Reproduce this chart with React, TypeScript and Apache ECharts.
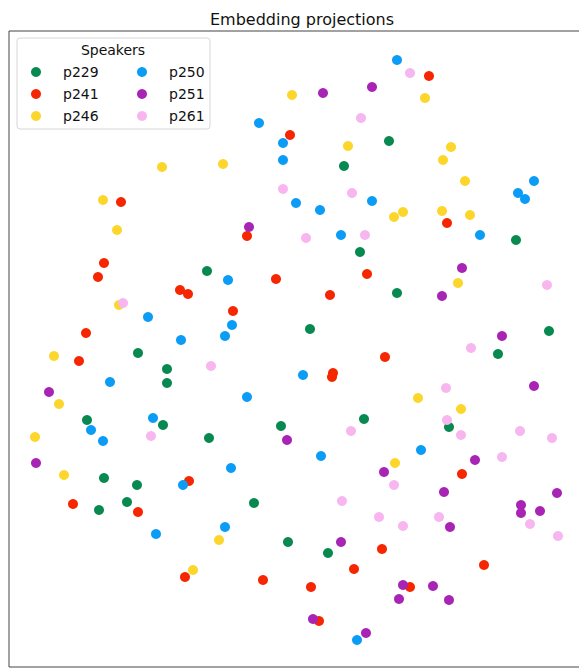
import React, { useEffect, useRef } from "react";
import * as echarts from "echarts";

const speakers = ["p229", "p241", "p246", "p250", "p251", "p261"];
const colors = ["#07894f", "#f52600", "#fdd62c", "#0b9cf5", "#a824b4", "#f7b6f0"];

const p229: number[][] = [
  [380, 526], [335, 501], [507, 427], [198, 396], [351, 415], [388, 374], [301, 338],
  [540, 336], [489, 313], [129, 314], [158, 298], [158, 284], [78, 247], [154, 242],
  [200, 229], [272, 241], [355, 248], [440, 240], [95, 189], [128, 182], [118, 165],
  [90, 157], [245, 164], [279, 125], [319, 114],
];
const p241: number[][] = [
  [420, 591], [281, 532], [112, 465], [238, 431], [438, 444], [95, 404], [89, 390],
  [267, 388], [171, 377], [179, 373], [358, 393], [321, 372], [224, 356], [77, 334],
  [70, 306], [376, 310], [324, 294], [323, 290], [180, 186], [64, 163], [129, 155],
  [453, 193], [373, 118], [345, 98], [475, 102], [176, 90], [254, 87], [302, 80],
  [401, 80], [310, 46],
];
const p246: number[][] = [
  [283, 572], [416, 569], [339, 521], [442, 520], [434, 507], [153, 500], [214, 503],
  [456, 486], [94, 467], [108, 437], [385, 450], [394, 455], [433, 456], [461, 452],
  [449, 384], [110, 362], [45, 311], [50, 263], [26, 230], [409, 269], [452, 258],
  [55, 192], [386, 204], [210, 127], [184, 97],
];
const p250: number[][] = [
  [388, 607], [250, 544], [274, 524], [274, 507], [525, 486], [509, 474], [516, 468],
  [287, 464], [311, 457], [363, 466], [332, 432], [471, 432], [219, 387], [139, 350],
  [223, 342], [216, 331], [172, 327], [101, 285], [238, 270], [294, 292], [144, 249],
  [82, 237], [94, 226], [412, 217], [312, 211], [222, 199], [174, 182], [147, 133],
  [216, 140], [348, 27],
];
const p251: number[][] = [
  [314, 574], [363, 580], [240, 440], [453, 399], [433, 371], [493, 331], [525, 281],
  [40, 275], [278, 227], [27, 204], [375, 195], [466, 207], [435, 175], [548, 174],
  [512, 162], [512, 154], [531, 156], [441, 140], [332, 125], [394, 82], [424, 81],
  [390, 68], [440, 67], [304, 48], [357, 34],
];
const p261: number[][] = [
  [401, 594], [352, 549], [274, 478], [343, 474], [297, 429], [356, 432], [538, 382],
  [114, 364], [202, 301], [462, 319], [437, 279], [438, 247], [142, 231], [342, 236],
  [452, 232], [511, 236], [543, 229], [493, 210], [385, 182], [333, 166], [370, 150],
  [394, 141], [430, 150], [521, 143], [549, 131],
];
const seriesData = [p229, p241, p246, p250, p251, p261];

const FONT = "DejaVu Sans";

export default function App() {
  const ref = useRef<HTMLDivElement>(null);
  useEffect(() => {
    document.body.style.margin = "0";
    document.body.style.overflow = "hidden";
    if (!ref.current) return;
    const chart = echarts.init(ref.current, undefined, { renderer: "svg" });
    const legendText = {
      fontFamily: FONT,
      fontSize: 14,
      color: "#111",
      lineHeight: 16,
      padding: [0, 0, 0, 17],
    };
    const legendBase = {
      orient: "vertical",
      top: 64,
      padding: 0,
      itemGap: 6,
      itemWidth: 10,
      itemHeight: 10,
      icon: "circle",
      textStyle: legendText,
      selectedMode: false,
      z: 20,
    };
    chart.setOption({
      animation: false,
      backgroundColor: "#ffffff",
      title: {
        text: "Embedding projections",
        left: 297,
        top: 6,
        textAlign: "center",
        textStyle: { fontFamily: FONT, fontSize: 16, fontWeight: "normal", color: "#111" },
      },
      grid: {
        left: 9,
        top: 31,
        right: 10,
        bottom: 1,
        show: true,
        borderColor: "#444",
        borderWidth: 1,
        backgroundColor: "transparent",
      },
      xAxis: {
        type: "value",
        min: 0,
        max: 581,
        axisLine: { show: false },
        axisTick: { show: false },
        axisLabel: { show: false },
        splitLine: { show: false },
      },
      yAxis: {
        type: "value",
        min: 0,
        max: 636,
        axisLine: { show: false },
        axisTick: { show: false },
        axisLabel: { show: false },
        splitLine: { show: false },
      },
      legend: [
        { ...legendBase, data: speakers.slice(0, 3), left: 31 },
        { ...legendBase, data: speakers.slice(3), left: 137 },
      ],
      graphic: [
        {
          type: "rect",
          z: 15,
          shape: { x: 17, y: 38, width: 193, height: 91, r: 3 },
          style: { fill: "rgba(255,255,255,0.85)", stroke: "#d6d6d6", lineWidth: 1 },
        },
        {
          type: "text",
          z: 16,
          x: 113,
          y: 50,
          style: {
            text: "Speakers",
            fontFamily: FONT,
            fontSize: 14,
            fill: "#111",
            textAlign: "center",
            textVerticalAlign: "middle",
          },
        },
      ],
      series: speakers.map((name, i) => ({
        name,
        type: "scatter",
        data: seriesData[i],
        symbol: "circle",
        symbolSize: 10,
        itemStyle: { color: colors[i], opacity: 1 },
        emphasis: { disabled: true },
        z: 2 + i,
      })),
    });
    return () => chart.dispose();
  }, []);
  return (
    <div style={{ position: "fixed", left: 0, top: 0, width: 579, height: 668, overflow: "hidden" }}>
      <div ref={ref} style={{ width: 600, height: 668 }} />
    </div>
  );
}
